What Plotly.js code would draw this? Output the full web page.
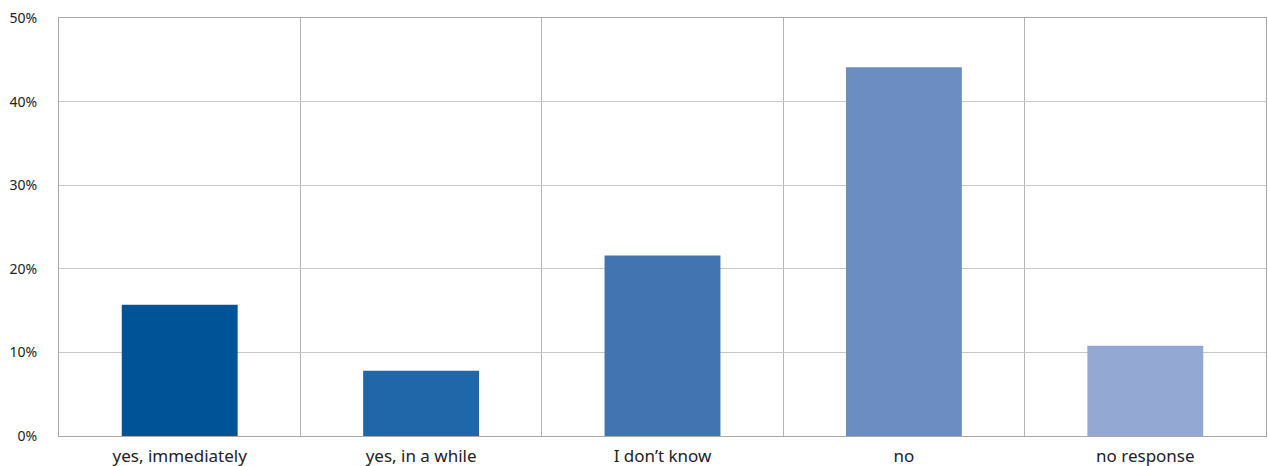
<!DOCTYPE html>
<html><head><meta charset="utf-8">
<script src="https://cdn.plot.ly/plotly-3.0.1.min.js"></script>
<style>html,body{margin:0;padding:0;background:#fff}</style>
</head><body>
<div id="chart" style="width:1268px;height:466px"></div>
<script>
const categories = ["yes, immediately", "yes, in a while", "I don’t know", "no", "no response"];
const values = [15.7, 7.8, 21.6, 44.1, 10.8];
const barColors = ["#005396", "#1f67a8", "#4174b0", "#6b8dc2", "#93a8d2"];
const yTickVals = [0, 10, 20, 30, 40, 50];
const yTickText = ["0%", "10%", "20%", "30%", "40%", "50%"];

Plotly.newPlot("chart", [{
  type: "bar",
  x: categories,
  y: values,
  marker: {color: barColors},
  width: 0.48,
  hoverinfo: "x+y"
}], {
  width: 1268, height: 466,
  margin: {l: 59, r: 2, t: 18, b: 30},
  paper_bgcolor: "#fff", plot_bgcolor: "#fff",
  showlegend: false,
  font: {family: "'Noto Sans', 'Open Sans', sans-serif", size: 16, color: "#222"},
  xaxis: {
    type: "category",
    tickson: "boundaries",
    showgrid: true, gridcolor: "#b4b4b4", gridwidth: 1,
    showline: true, linecolor: "#a8a8a8", linewidth: 1, mirror: true,
    ticks: "", ticklen: 0,
    ticklabelstandoff: 5,
    tickfont: {size: 17, color: "#222"},
    range: [-0.5, 4.5]
  },
  yaxis: {
    range: [0, 50],
    tickvals: yTickVals, ticktext: yTickText,
    showgrid: true, gridcolor: "#c8c8c8", gridwidth: 1,
    showline: true, linecolor: "#a8a8a8", linewidth: 1, mirror: true,
    zeroline: false,
    ticks: "",
    ticklabelstandoff: 18,
    tickfont: {size: 14, color: "#222"}
  }
}, {displayModeBar: false, staticPlot: true});
</script>
</body></html>
